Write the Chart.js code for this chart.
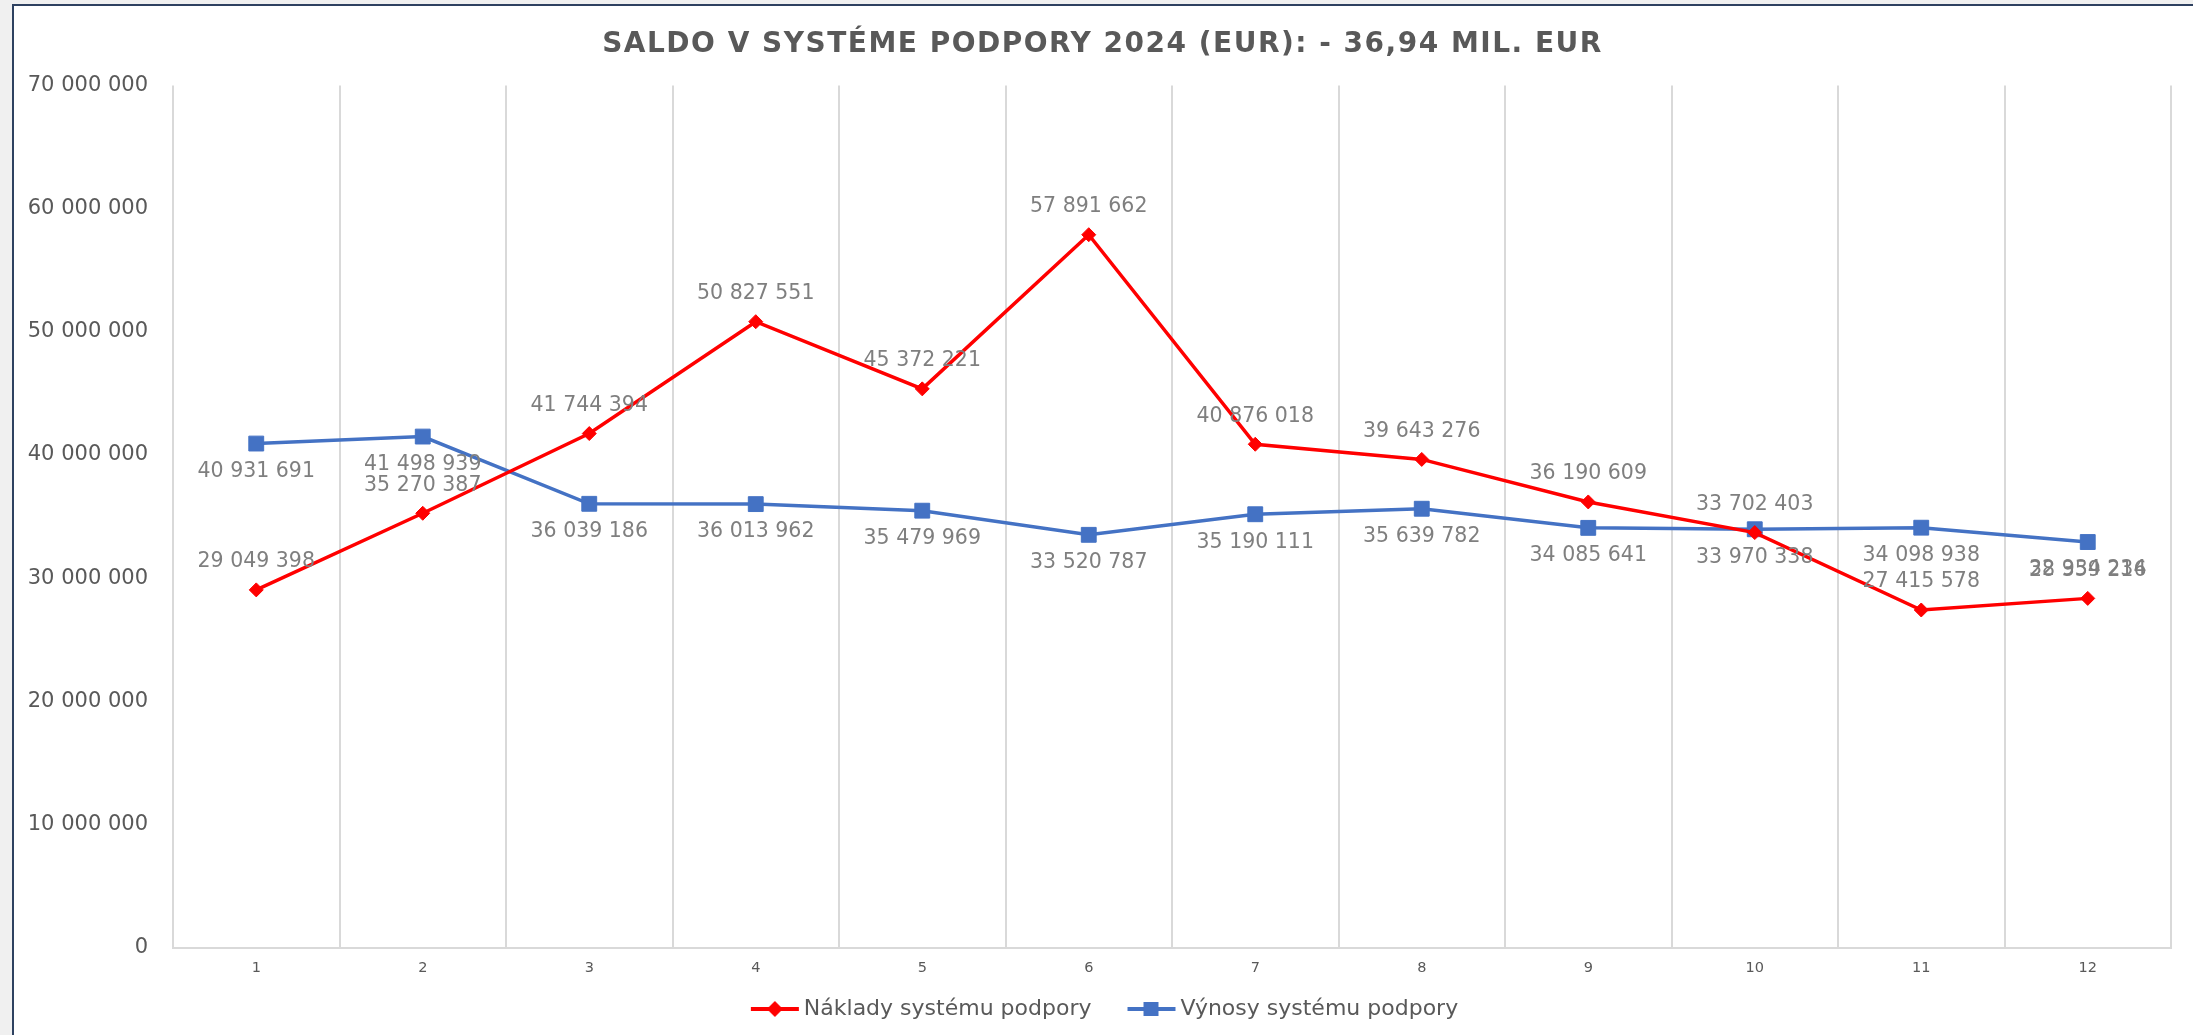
<!DOCTYPE html>
<html>
<head>
<meta charset="utf-8">
<script src="https://cdn.jsdelivr.net/npm/chart.js@4.4.1/dist/chart.umd.min.js"></script>
<style>
  html, body { margin: 0; padding: 0; background: #f0f0f0; width: 2193px; height: 1035px; overflow: hidden; }
  #frame { position: absolute; left: 12px; top: 4px; width: 2200px; height: 1060px; background: #ffffff; border: 2px solid #2e4160; box-sizing: border-box; }
  #wrap { position: absolute; left: 0; top: 0; width: 2193px; height: 1035px; }
  canvas { display: block; }
</style>
</head>
<body>
<div id="frame"></div>
<div id="wrap"><canvas id="c" width="2193" height="1035"></canvas></div>
<script>
const titleText = 'SALDO V SYSTÉME PODPORY 2024 (EUR): - 36,94 MIL. EUR';
const months = ['1', '2', '3', '4', '5', '6', '7', '8', '9', '10', '11', '12'];
const nakladyLabel = 'Náklady systému podpory';
const vynosyLabel = 'Výnosy systému podpory';
const naklady = [29049398, 35270387, 41744394, 50827551, 45372221, 57891662, 40876018, 39643276, 36190609, 33702403, 27415578, 28359216];
const vynosy = [40931691, 41498939, 36039186, 36013962, 35479969, 33520787, 35190111, 35639782, 34085641, 33970338, 34098938, 32934234];
const yTicks = [0, 10000000, 20000000, 30000000, 40000000, 50000000, 60000000, 70000000];

const RED = '#ff0000';
const BLUE = '#4472c4';

function fmt(v) {
  return String(Math.round(v)).replace(/\B(?=(\d{3})+(?!\d))/g, ' ');
}

function legendMarker(color, style) {
  const cv = document.createElement('canvas');
  cv.width = 50; cv.height = 20;
  const c = cv.getContext('2d');
  c.strokeStyle = color; c.lineWidth = 4;
  c.beginPath(); c.moveTo(1, 10); c.lineTo(49, 10); c.stroke();
  c.fillStyle = color;
  if (style === 'diamond') {
    c.beginPath(); c.moveTo(25, 2); c.lineTo(33, 10); c.lineTo(25, 18); c.lineTo(17, 10); c.closePath(); c.fill();
  } else {
    c.fillRect(17, 3, 15, 14);
  }
  return cv;
}
const markers = [legendMarker(RED, 'diamond'), legendMarker(BLUE, 'square')];

const valueLabels = {
  id: 'valueLabels',
  afterDatasetsDraw(chart) {
    const ctx = chart.ctx;
    ctx.save();
    ctx.font = '20.5px "DejaVu Sans"';
    ctx.fillStyle = '#7f7f7f';
    ctx.textAlign = 'center';
    ctx.textBaseline = 'middle';
    chart.data.datasets.forEach((ds, di) => {
      const meta = chart.getDatasetMeta(di);
      meta.data.forEach((pt, i) => {
        const dy = di === 0 ? -28 : 28;
        ctx.fillText(fmt(ds.data[i]), pt.x, pt.y + dy);
      });
    });
    ctx.restore();
  }
};

const chart = new Chart(document.getElementById('c'), {
  type: 'line',
  data: {
    labels: months,
    datasets: [
      {
        label: nakladyLabel,
        data: naklady,
        borderColor: RED,
        backgroundColor: RED,
        borderWidth: 3.5,
        pointStyle: 'rectRot',
        pointRadius: 7,
        pointBorderWidth: 1,
        pointBackgroundColor: RED,
        pointBorderColor: RED,
        tension: 0
      },
      {
        label: vynosyLabel,
        data: vynosy,
        borderColor: BLUE,
        backgroundColor: BLUE,
        borderWidth: 3.5,
        pointStyle: 'rect',
        pointRadius: 10.5,
        pointBorderWidth: 1,
        pointBackgroundColor: BLUE,
        pointBorderColor: BLUE,
        tension: 0
      }
    ]
  },
  options: {
    responsive: false,
    animation: false,
    layout: { padding: { left: 0, right: 22, top: 0, bottom: -6 } },
    plugins: {
      title: {
        display: true,
        text: titleText,
        color: '#595959',
        font: { family: '"DejaVu Sans"', size: 28, weight: 'bold', lineHeight: 1.2 },
        padding: { top: 28, bottom: 24 }
      },
      legend: {
        display: true,
        position: 'bottom',
        labels: {
          color: '#595959',
          font: { family: '"DejaVu Sans"', size: 22 },
          usePointStyle: true,
          pointStyleWidth: 36,
          padding: 20,
          generateLabels(chart) {
            const items = Chart.defaults.plugins.legend.labels.generateLabels(chart);
            items.forEach((it, i) => {
              it.pointStyle = markers[i];
              if (i === 0) it.text = it.text + '\u2002\u2002';
            });
            return items;
          }
        }
      },
      tooltip: { enabled: false }
    },
    scales: {
      x: {
        offset: true,
        grid: { display: true, offset: true, color: '#d9d9d9', lineWidth: 2, drawTicks: false },
        border: { display: true, color: '#d9d9d9', width: 2 },
        ticks: { color: '#595959', font: { family: '"DejaVu Sans"', size: 14.5 }, padding: 12 }
      },
      y: {
        min: 0,
        max: 70000000,
        afterBuildTicks(scale) { scale.ticks = yTicks.map(v => ({ value: v })); },
        afterFit(scale) { scale.width = 173; },
        grid: { display: false, drawTicks: false },
        border: { display: false },
        ticks: {
          color: '#595959',
          font: { family: '"DejaVu Sans"', size: 21 },
          padding: 25,
          callback: (v) => fmt(v)
        }
      }
    }
  },
  plugins: [valueLabels]
});

// letter-spaced title, and horizontal centring as in the reference
if (chart.titleBlock) {
  const origTitle = chart.titleBlock.draw.bind(chart.titleBlock);
  chart.titleBlock.draw = function () {
    const ctx = chart.ctx;
    ctx.save();
    ctx.letterSpacing = '1.5px';
    ctx.translate(17, 0);
    origTitle();
    ctx.restore();
    ctx.letterSpacing = '0px';
  };
}
if (chart.legend) {
  const origLegend = chart.legend.draw.bind(chart.legend);
  chart.legend.draw = function () {
    const ctx = chart.ctx;
    ctx.save();
    ctx.translate(22, -11);
    origLegend();
    ctx.restore();
  };
}
chart.draw();
</script>
</body>
</html>
